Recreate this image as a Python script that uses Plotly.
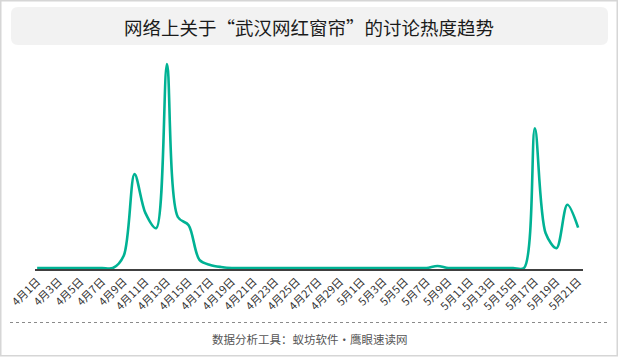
import plotly.graph_objects as go

# ---- data ----
months = ["4月"] * 30 + ["5月"] * 21
days = list(range(1, 31)) + list(range(1, 22))
dates = [f"{m}{d}日" for m, d in zip(months, days)]
heat = [0, 0, 0, 0, 0, 0, 0, 0, 6, 46,
        27, 19.5, 100, 25, 21, 4, 1.5, 0.5, 0, 0,
        0, 0, 0, 0, 0, 0, 0, 0, 0, 0,
        0, 0, 0, 0, 0, 0, 0, 1, 0, 0,
        0, 0, 0, 0, 0, 0, 68.5, 17, 9.7, 31,
        19.8]
tick_idx = list(range(0, 51, 2))
tick_labels = [dates[i] for i in tick_idx]
title_text = "网络上关于“武汉网红窗帘”的讨论热度趋势"
footer_text = "数据分析工具：蚁坊软件·鹰眼速读网"

W, H = 619, 357
L, R, T, B = 35, 36, 60, 88
pw, ph = W - L - R, H - T - B


def px(x):
    return (x - L) / pw


def py(y):
    return (H - B - y) / ph


fig = go.Figure()
fig.add_trace(go.Scatter(
    x=list(range(len(heat))), y=heat, mode="lines",
    line=dict(color="#00b294", width=2.6, shape="spline", smoothing=0.9),
    hoverinfo="skip", showlegend=False,
))

# rounded title box
x0, x1, y0, y1, r = 11, 608, 7, 45, 7
path = (f"M {px(x0 + r)},{py(y0)} L {px(x1 - r)},{py(y0)} "
        f"Q {px(x1)},{py(y0)} {px(x1)},{py(y0 + r)} "
        f"L {px(x1)},{py(y1 - r)} Q {px(x1)},{py(y1)} {px(x1 - r)},{py(y1)} "
        f"L {px(x0 + r)},{py(y1)} Q {px(x0)},{py(y1)} {px(x0)},{py(y1 - r)} "
        f"L {px(x0)},{py(y0 + r)} Q {px(x0)},{py(y0)} {px(x0 + r)},{py(y0)} Z")

shapes = [
    dict(type="rect", xref="paper", yref="paper",
         x0=px(0.75), x1=px(617.25), y0=py(0.75), y1=py(355.75),
         line=dict(color="#d6d6d6", width=1.5), fillcolor="rgba(0,0,0,0)", layer="below"),
    dict(type="path", xref="paper", yref="paper", path=path,
         fillcolor="#f2f2f2", line=dict(width=0), layer="below"),
    dict(type="line", xref="paper", yref="paper",
         x0=px(10), x1=px(608), y0=py(322.5), y1=py(322.5),
         line=dict(color="#8a8a8a", width=1, dash="dot")),
]

annotations = [
    dict(text=title_text, xref="paper", yref="paper", x=px(309), y=py(27),
         showarrow=False, xanchor="center", yanchor="middle",
         font=dict(size=18.5, color="#1a1a1a", family="Noto Sans CJK SC")),
    dict(text=footer_text, xref="paper", yref="paper", x=px(310), y=py(339),
         showarrow=False, xanchor="center", yanchor="middle",
         font=dict(size=11.5, color="#555555", family="Noto Sans CJK SC")),
]

unit = 205 / 100.0
fig.update_layout(
    width=W, height=H,
    margin=dict(l=L, r=R, t=T, b=B, pad=0, autoexpand=False),
    paper_bgcolor="white", plot_bgcolor="white",
    shapes=shapes, annotations=annotations,
    font=dict(family="Noto Sans CJK SC", color="#333333"),
    xaxis=dict(
        range=[-0.2, 50.45], tickmode="array", tickvals=tick_idx, ticktext=tick_labels,
        tickangle=-45, tickfont=dict(size=11, color="#333333", family="Noto Sans CJK SC"),
        showline=True, linecolor="#404040", linewidth=1.6, ticks="",
        showgrid=False, zeroline=False, fixedrange=True, automargin=False,
    ),
    yaxis=dict(
        range=[-1 / unit, 100 + (64 - T) / unit], visible=False,
        showgrid=False, zeroline=False, fixedrange=True, automargin=False,
    ),
)

fig.write_html("out.html", config={"displayModeBar": False},
               post_script="document.body.style.margin='0';document.body.style.overflow='hidden';")
